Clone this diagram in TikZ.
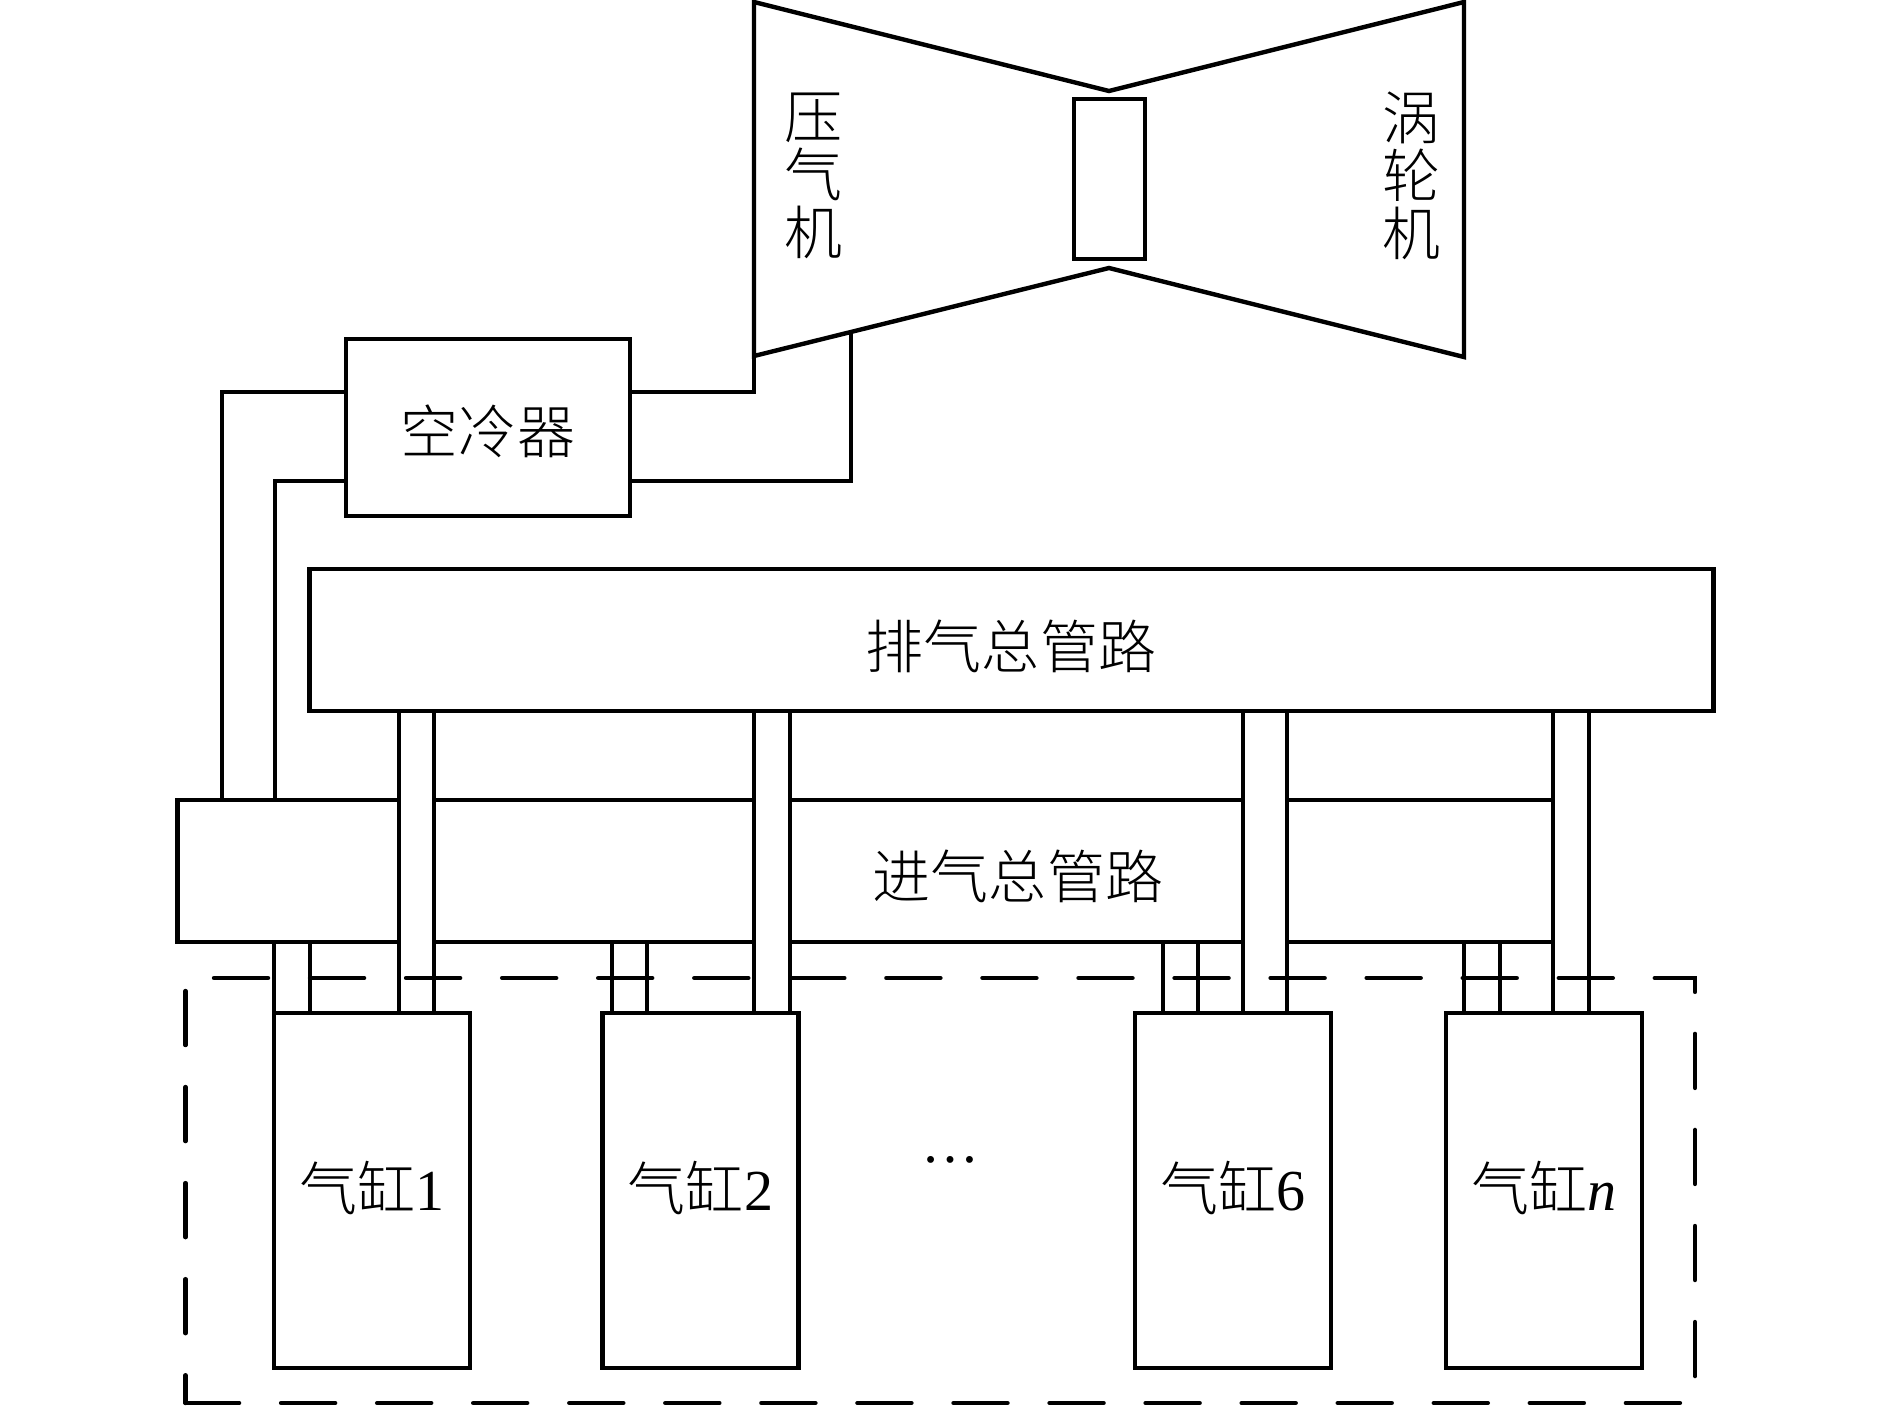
\documentclass[tikz,border=0pt]{standalone}
\usepackage{fontspec}
\setmainfont{Liberation Serif}
\newfontfamily\cjk{Noto Sans CJK SC Light}

\begin{document}
\begin{tikzpicture}[
  x=0.01cm,
  y=-0.01cm,
  every node/.style={font=\fontsize{16.5}{20.5}\selectfont, black, inner sep=0pt, outer sep=0pt},
  box/.style={draw=black, line width=1.25pt, fill=white, line join=miter},
  stack/.style={align=center, font=\fontsize{16.5}{16.4}\selectfont},
  pipe/.style={black, line width=1.25pt},
  guide/.style={black, line width=1.25pt, line cap=round, dash pattern=on 0.54cm off 0.42cm}
]
  \useasboundingbox (0,0) rectangle (1890,1406);

  % ---- turbocharger ------------------------------------------------------
  \coordinate (compsw) at (754,356);
  \coordinate (compout) at (851,332);
  \draw[pipe] (754,2) -- (1109,91) -- (1464,2) -- (1464,357) -- (1109,268)
    -- (compsw) -- cycle;
  \node[box, minimum width=0.71cm, minimum height=1.60cm] (shaft) at (1109.5,179) {};
  \node[stack] (compressor) at (814,176) {\cjk 压\\\cjk 气\\\cjk 机};
  \node[stack] (turbine) at (1411,176) {\cjk 涡\\\cjk 轮\\\cjk 机};

  % ---- air cooler and its four lines ---------------------------------------
  \coordinate (upperrow) at (0,392);
  \coordinate (lowerrow) at (0,481);
  \node[box, minimum width=2.84cm, minimum height=1.77cm] (cooler) at (488,427.5) {};
  \node (coolerlabel) at (488,431) {\cjk 空冷器};
  \node[box, minimum width=13.75cm, minimum height=1.42cm] (inlet) at (865.5,871) {};
  \node[box, minimum width=14.03cm, minimum height=1.42cm] (exhaust) at (1011.5,640) {};
  \node (exhaustlabel) at (1011,646) {\cjk 排气总管路};
  \node (inletlabel) at (1018,876) {\cjk 进气总管路};
  \draw[pipe] (cooler.east |- upperrow) -| (compsw);
  \draw[pipe] (cooler.east |- lowerrow) -| (compout);
  \draw[pipe] (cooler.west |- upperrow) -| (222,0 |- inlet.north);
  \draw[pipe] (cooler.west |- lowerrow) -| (275,0 |- inlet.north);

  % ---- cylinders -----------------------------------------------------------
  \foreach \cylname/\cx/\cylno in {cylone/372/1, cyltwo/700.5/2, cylsix/1233/6, cyln/1544/\textit{n}} {
    \node[box, minimum width=1.96cm, minimum height=3.55cm] (\cylname) at (\cx,1190.5) {};
    \node (\cylname label) at (\cx,1188) {{\cjk 气缸}\cylno};
  }
  \node (gap) at (951,1160) {…};

  % ---- branch pipes: intake stub, then exhaust pipe over the inlet manifold -
  \foreach \cylname/\sa/\sb/\pa/\pb in {cylone/274/310/399/434, cyltwo/612/647/754/790,
      cylsix/1163/1198/1243/1287, cyln/1464/1500/1553/1589} {
    \draw[pipe] (\sa,0 |- \cylname.north) -- (\sa,0 |- inlet.south);
    \draw[pipe] (\sb,0 |- \cylname.north) -- (\sb,0 |- inlet.south);
    \fill[white] ([yshift=1pt]\pa,0 |- inlet.north) rectangle ([yshift=-1pt]\pb,0 |- inlet.south);
    \draw[pipe] (\pa,0 |- \cylname.north) -- (\pa,0 |- exhaust.south);
    \draw[pipe] (\pb,0 |- \cylname.north) -- (\pb,0 |- exhaust.south);
  }

  % ---- dashed engine outline -------------------------------------------------
  \coordinate (enginesw) at (185.5,1403);
  \draw[guide] (214,978) -- (1695,978) -- (1695,1403) -- (enginesw);
  \draw[guide] (185.5,991) -- (enginesw);
\end{tikzpicture}
\end{document}
